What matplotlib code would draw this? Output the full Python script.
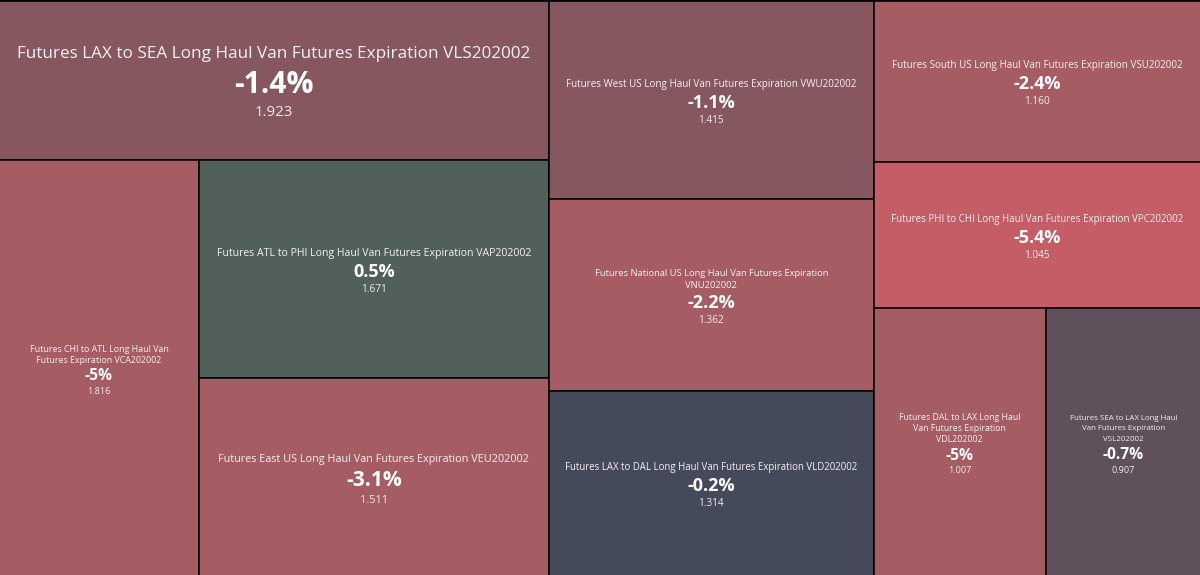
import textwrap
import matplotlib
matplotlib.use("Agg")
import matplotlib.pyplot as plt
from matplotlib.patches import Rectangle

# ---------------- data ----------------
titles = [
    "Futures LAX to SEA Long Haul Van Futures Expiration VLS202002",
    "Futures CHI to ATL Long Haul Van Futures Expiration VCA202002",
    "Futures ATL to PHI Long Haul Van Futures Expiration VAP202002",
    "Futures East US Long Haul Van Futures Expiration VEU202002",
    "Futures West US Long Haul Van Futures Expiration VWU202002",
    "Futures National US Long Haul Van Futures Expiration VNU202002",
    "Futures LAX to DAL Long Haul Van Futures Expiration VLD202002",
    "Futures South US Long Haul Van Futures Expiration VSU202002",
    "Futures PHI to CHI Long Haul Van Futures Expiration VPC202002",
    "Futures DAL to LAX Long Haul Van Futures Expiration VDL202002",
    "Futures SEA to LAX Long Haul Van Futures Expiration VSL202002",
]
prices = [1.923, 1.816, 1.671, 1.511, 1.415, 1.362, 1.314, 1.160, 1.045, 1.007, 0.907]
changes = [-1.4, -5, 0.5, -3.1, -1.1, -2.2, -0.2, -2.4, -5.4, -5, -0.7]

# ---------------- styles ----------------
W, H = 1200, 575
color_bins = [(-5.2, "#C45D65"), (-2.0, "#A55C63"), (-1.0, "#86575F"),
              (-0.5, "#5F505C"), (0.0, "#444A5A")]
positive_color = "#52605A"

# label sizes in css px (title, percentage, price), wrap width (chars),
# and the pixel width of the widest title line
title_px = [19, 10, 12, 13, 11.5, 10.5, 11.5, 11, 11, 10, 9.5]
title_fit = [514, 139, 315, 314, 290, 237, 290, 291, 292, 122, 108]
pct_px = [30, 15.5, 18, 21, 18, 18, 18, 18, 18, 15.5, 15.5]
value_px = [15, 9, 10, 11, 10, 10, 10, 10, 10, 9, 9]
wrap_chars = [100, 34, 100, 100, 100, 52, 100, 100, 100, 28, 28]
FONT = ["Open Sans", "Noto Sans", "DejaVu Sans"]
PX2PT = 0.72


def tile_color(c):
    for thr, col in color_bins:
        if c <= thr:
            return col
    return positive_color


def split_layout(vals, idx, x, y, w, h, out):
    """Ordered split treemap: first group takes items while its sum stays <= half."""
    if len(idx) == 1:
        out[idx[0]] = (x, y, w, h)
        return
    total = sum(vals[i] for i in idx)
    acc, k = 0.0, 0
    for j, i in enumerate(idx):
        if j > 0 and acc + vals[i] > total / 2:
            break
        acc += vals[i]
        k = j + 1
    k = min(k, len(idx) - 1)
    first, rest = idx[:k], idx[k:]
    frac = sum(vals[i] for i in first) / total
    if w >= h:
        split_layout(vals, first, x, y, w * frac, h, out)
        split_layout(vals, rest, x + w * frac, y, w * (1 - frac), h, out)
    else:
        split_layout(vals, first, x, y, w, h * frac, out)
        split_layout(vals, rest, x, y + h * frac, w, h * (1 - frac), out)


rects = {}
split_layout(prices, list(range(len(prices))), 0, 0, W, H, rects)

fig = plt.figure(figsize=(12, 5.75), dpi=100)
ax = fig.add_axes([0, 0, 1, 1])
ax.set_xlim(0.9, W - 0.9)
ax.set_ylim(H - 0.9, 0)
ax.axis("off")
renderer = fig.canvas.get_renderer()

for i in range(len(prices)):
    x, y, w, h = rects[i]
    ax.add_patch(Rectangle((x, y), w, h, facecolor=tile_color(changes[i]),
                           edgecolor="#000000", linewidth=1.1))
    t, p, v = title_px[i], pct_px[i], value_px[i]
    lines = textwrap.wrap(titles[i], width=wrap_chars[i])
    n = len(lines)
    title_h = 1.25 * t + (n - 1) * 1.08 * t
    total = title_h + 1.25 * p + 1.25 * v
    top = y + h / 2 + 2 - total / 2
    objs = []
    for li, line in enumerate(lines):
        objs.append(ax.text(x + w / 2, top + 0.625 * t + li * 1.08 * t, line, ha="center",
                            va="center", family=FONT, fontsize=10, color="#F4F1F2"))
    widest = max(o.get_window_extent(renderer).width for o in objs)
    for o in objs:
        o.set_fontsize(10 * title_fit[i] / widest)
    ax.text(x + w / 2, top + title_h + 0.625 * p, f"{changes[i]:g}%", ha="center", va="center",
            family=FONT, fontweight="bold", fontsize=p * PX2PT, color="#FFFFFF")
    ax.text(x + w / 2, top + title_h + 1.25 * p + 0.625 * v, f"{prices[i]:.3f}", ha="center",
            va="center", family=FONT, fontsize=v * PX2PT, color="#F0ECEE")

ax.plot([0, W], [0.5, 0.5], color="#000000", linewidth=1.2)
fig.savefig("out.png", dpi=100)
